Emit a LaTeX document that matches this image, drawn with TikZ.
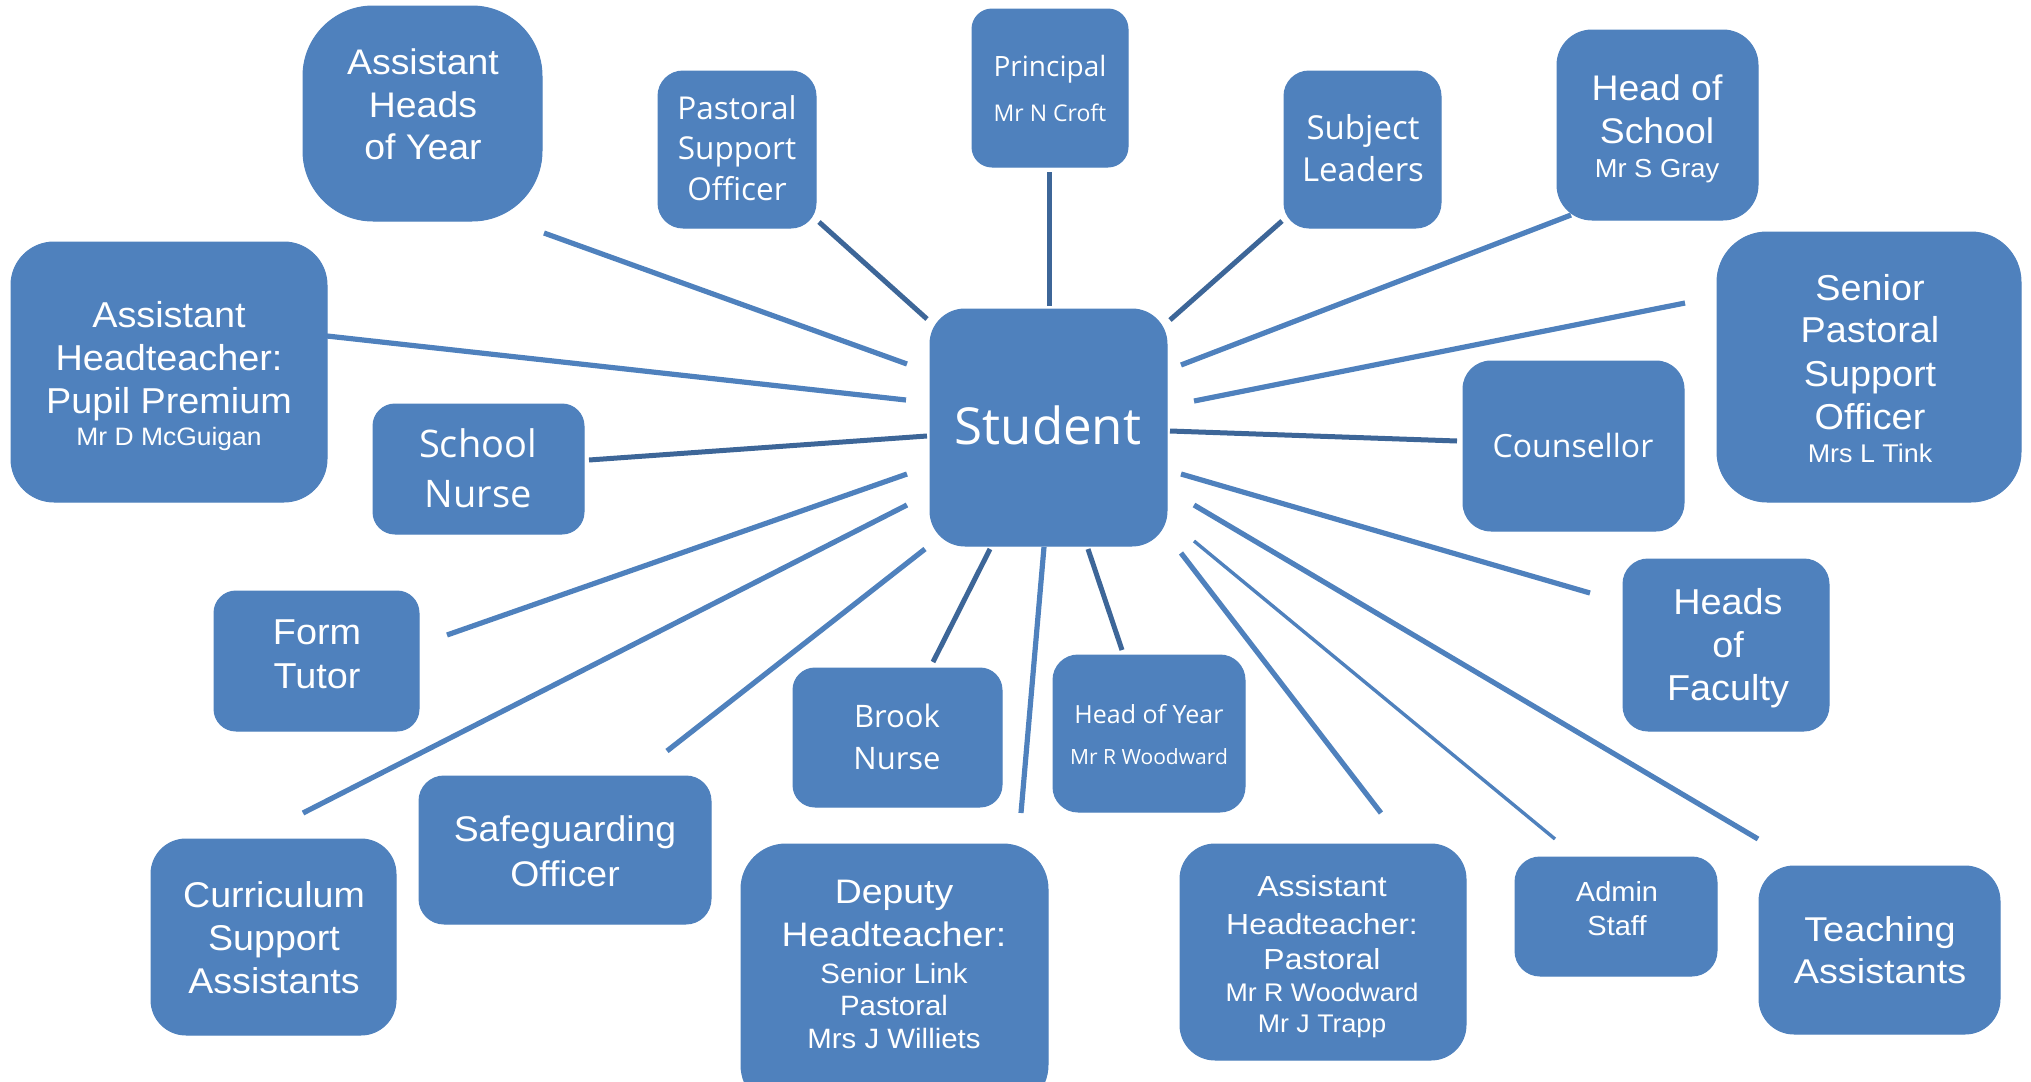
\documentclass[tikz,border=0pt]{standalone}
\usepackage{fontspec}
\newfontfamily\ar[FakeStretch=1.05]{Liberation Sans}
\newfontfamily\arx[FakeStretch=1.1]{Liberation Sans}
\newfontfamily\os{Open Sans}
\definecolor{boxblue}{HTML}{4F81BD}
\definecolor{darkline}{HTML}{3D6698}
\newcommand\fsz[1]{\fontsize{#1}{#1}\selectfont}
\tikzset{
  box/.style={fill=boxblue, draw=boxblue, line width=0.5pt, inner sep=0pt},
  lnk/.style={draw=boxblue, line width=2.6pt},
  dlnk/.style={draw=darkline, line width=2.5pt},
  thinlnk/.style={draw=boxblue, line width=1.7pt},
  txt/.style={text=white, inner sep=0pt, anchor=base},
}
\begin{document}
\begin{tikzpicture}[x=0.5pt, y=-0.5pt]
\useasboundingbox (0,0) rectangle (2031,1082);
% ---------- boxes ----------
\node[box, minimum width=119.5pt, minimum height=107.5pt, rounded corners=35pt] (ahoy) at (422.5,113.5) {};
\node[box, minimum width=79pt, minimum height=78.5pt, rounded corners=12.5pt] (pso) at (737,149.5) {};
\node[box, minimum width=78pt, minimum height=79pt, rounded corners=10pt] (principal) at (1050,88) {};
\node[box, minimum width=78.5pt, minimum height=78.5pt, rounded corners=12.5pt] (subj) at (1362.5,149.5) {};
\node[box, minimum width=100.5pt, minimum height=95pt, rounded corners=17.5pt] (hos) at (1657.5,125) {};
\node[box, minimum width=152pt, minimum height=135pt, rounded corners=25pt] (spso) at (1869,367) {};
\node[box, minimum width=158pt, minimum height=130pt, rounded corners=21.5pt] (pp) at (169,372) {};
\node[box, minimum width=105.5pt, minimum height=65pt, rounded corners=11pt] (sn) at (478.5,469) {};
\node[box, minimum width=118.5pt, minimum height=118.5pt, rounded corners=17.5pt] (student) at (1048.5,427.5) {};
\node[box, minimum width=110.5pt, minimum height=85pt, rounded corners=14pt] (couns) at (1573.5,446) {};
\node[box, minimum width=102.5pt, minimum height=70pt, rounded corners=11pt] (ft) at (316.5,661) {};
\node[box, minimum width=103pt, minimum height=86pt, rounded corners=12.5pt] (hof) at (1726,645) {};
\node[box, minimum width=104.5pt, minimum height=69.5pt, rounded corners=11pt] (bn) at (897.5,737.5) {};
\node[box, minimum width=96pt, minimum height=78.5pt, rounded corners=12.5pt] (hoy) at (1149,733.5) {};
\node[box, minimum width=146pt, minimum height=74pt, rounded corners=12.5pt] (so) at (565,850) {};
\node[box, minimum width=122.5pt, minimum height=98pt, rounded corners=17.5pt] (csa) at (273.5,937) {};
\node[box, minimum width=153.5pt, minimum height=133pt, rounded corners=22.5pt] (dh) at (894.5,977) {};
\node[box, minimum width=143pt, minimum height=108pt, rounded corners=17.5pt] (ahp) at (1323,952) {};
\node[box, minimum width=101pt, minimum height=59.5pt, rounded corners=12.5pt] (admin) at (1616,916.5) {};
\node[box, minimum width=120.5pt, minimum height=84pt, rounded corners=17.5pt] (ta) at (1879.5,950) {};
% ---------- connector ends ----------
\coordinate (ahoy-e) at (544,233);   \coordinate (st-ahoy) at (907,364);
\coordinate (pso-e) at (819,222);    \coordinate (st-pso) at (927,319);
\coordinate (principal-e) at (1049,172); \coordinate (st-principal) at (1049,306);
\coordinate (subj-e) at (1282,221);  \coordinate (st-subj) at (1170,320);
\coordinate (hos-e) at (1571,215);   \coordinate (st-hos) at (1181,365);
\coordinate (spso-e) at (1685,303);  \coordinate (st-spso) at (1194,401);
\coordinate (pp-e) at (327,336);     \coordinate (st-pp) at (906,400);
\coordinate (sn-e) at (589,460);     \coordinate (st-sn) at (927,436);
\coordinate (couns-e) at (1457,441); \coordinate (st-couns) at (1170,431);
\coordinate (ft-e) at (447,635);     \coordinate (st-ft) at (907,474);
\coordinate (csa-e) at (303,813);    \coordinate (st-csa) at (907,505);
\coordinate (so-e) at (667,751);     \coordinate (st-so) at (925,549);
\coordinate (bn-e) at (933,662);     \coordinate (st-bn) at (990,549);
\coordinate (dh-e) at (1021,813);    \coordinate (st-dh) at (1044,547);
\coordinate (hoy-e) at (1122,650);   \coordinate (st-hoy) at (1088,549);
\coordinate (ahp-e) at (1381,813);   \coordinate (st-ahp) at (1181,553);
\coordinate (admin-e) at (1555,839); \coordinate (st-admin) at (1194,541);
\coordinate (ta-e) at (1758,839);    \coordinate (st-ta) at (1194,505);
\coordinate (hof-e) at (1590,593);   \coordinate (st-hof) at (1181,474);
% ---------- connectors ----------
\draw[lnk] (ahoy-e) -- (st-ahoy);
\draw[dlnk] (pso-e) -- (st-pso);
\draw[dlnk] (principal-e) -- (st-principal);
\draw[dlnk] (subj-e) -- (st-subj);
\draw[lnk] (hos-e) -- (st-hos);
\draw[lnk] (spso-e) -- (st-spso);
\draw[lnk] (pp-e) -- (st-pp);
\draw[dlnk] (sn-e) -- (st-sn);
\draw[dlnk] (couns-e) -- (st-couns);
\draw[lnk] (ft-e) -- (st-ft);
\draw[lnk] (csa-e) -- (st-csa);
\draw[lnk] (so-e) -- (st-so);
\draw[dlnk] (bn-e) -- (st-bn);
\draw[lnk] (dh-e) -- (st-dh);
\draw[dlnk] (hoy-e) -- (st-hoy);
\draw[lnk] (ahp-e) -- (st-ahp);
\draw[thinlnk] (admin-e) -- (st-admin);
\draw[lnk] (ta-e) -- (st-ta);
\draw[lnk] (hof-e) -- (st-hof);
% ---------- texts ----------
\node[txt, font=\ar\fsz{17.8}] (ahoy-1) at (423,74) {Assistant};
\node[txt, font=\ar\fsz{17.8}] (ahoy-2) at (423,117) {Heads};
\node[txt, font=\ar\fsz{17.8}] (ahoy-3) at (423,159) {of Year};
\node[txt, font=\os\fsz{15.75}] (pso-1) at (737,119) {Pastoral};
\node[txt, font=\os\fsz{15.75}] (pso-2) at (737,159) {Support};
\node[txt, font=\os\fsz{15.75}] (pso-3) at (737,200) {Officer};
\node[txt, font=\os\fsz{14}] (principal-1) at (1050,76) {Principal};
\node[txt, font=\os\fsz{11.5}] (principal-2) at (1050,121) {Mr N Croft};
\node[txt, font=\os\fsz{16.5}] (subj-1) at (1363,139) {Subject};
\node[txt, font=\os\fsz{16.5}] (subj-2) at (1363,181) {Leaders};
\node[txt, font=\ar\fsz{17.8}] (hos-1) at (1657,100) {Head of};
\node[txt, font=\ar\fsz{17.8}] (hos-2) at (1657,143) {School};
\node[txt, font=\ar\fsz{13}] (hos-3) at (1657,177) {Mr S Gray};
\node[txt, font=\ar\fsz{18}] (spso-1) at (1870,300) {Senior};
\node[txt, font=\ar\fsz{18}] (spso-2) at (1870,342) {Pastoral};
\node[txt, font=\ar\fsz{18}] (spso-3) at (1870,386) {Support};
\node[txt, font=\ar\fsz{18}] (spso-4) at (1870,429) {Officer};
\node[txt, font=\ar\fsz{12.8}] (spso-5) at (1870,462) {Mrs L Tink};
\node[txt, font=\ar\fsz{18}] (pp-1) at (169,327) {Assistant};
\node[txt, font=\ar\fsz{18}] (pp-2) at (169,370) {Headteacher:};
\node[txt, font=\ar\fsz{18}] (pp-3) at (169,413) {Pupil Premium};
\node[txt, font=\ar\fsz{12.6}] (pp-4) at (169,445) {Mr D McGuigan};
\node[txt, font=\os\fsz{19}] (sn-1) at (478,457) {School};
\node[txt, font=\os\fsz{19}] (sn-2) at (478,507) {Nurse};
\node[txt, font=\os\fsz{25.5}] (student-1) at (1048,444) {Student};
\node[txt, font=\os\fsz{16}] (couns-1) at (1573,457) {Counsellor};
\node[txt, font=\ar\fsz{18}] (ft-1) at (317,644) {Form};
\node[txt, font=\ar\fsz{18}] (ft-2) at (317,688) {Tutor};
\node[txt, font=\ar\fsz{18}] (hof-1) at (1728,614) {Heads};
\node[txt, font=\ar\fsz{18}] (hof-2) at (1728,657) {of};
\node[txt, font=\ar\fsz{18}] (hof-3) at (1728,700) {Faculty};
\node[txt, font=\os\fsz{15.5}] (bn-1) at (897,727) {Brook};
\node[txt, font=\os\fsz{15.5}] (bn-2) at (897,769) {Nurse};
\node[txt, font=\os\fsz{12.5}] (hoy-1) at (1149,723) {Head of Year};
\node[txt, font=\os\fsz{10.5}] (hoy-2) at (1149,764) {Mr R Woodward};
\node[txt, font=\ar\fsz{17.8}] (so-1) at (565,841) {Safeguarding};
\node[txt, font=\ar\fsz{17.8}] (so-2) at (565,886) {Officer};
\node[txt, font=\ar\fsz{17.9}] (csa-1) at (274,907) {Curriculum};
\node[txt, font=\ar\fsz{17.9}] (csa-2) at (274,950) {Support};
\node[txt, font=\ar\fsz{17.9}] (csa-3) at (274,993) {Assistants};
\node[txt, font=\arx\fsz{17}] (dh-1) at (894,903) {Deputy};
\node[txt, font=\arx\fsz{17}] (dh-2) at (894,946) {Headteacher:};
\node[txt, font=\ar\fsz{14}] (dh-3) at (894,983) {Senior Link};
\node[txt, font=\ar\fsz{14}] (dh-4) at (894,1015) {Pastoral};
\node[txt, font=\ar\fsz{14}] (dh-5) at (894,1048) {Mrs J Williets};
\node[txt, font=\arx\fsz{14.5}] (ahp-1) at (1322,896) {Assistant};
\node[txt, font=\arx\fsz{14.5}] (ahp-2) at (1322,934) {Headteacher:};
\node[txt, font=\arx\fsz{14.5}] (ahp-3) at (1322,969) {Pastoral};
\node[txt, font=\ar\fsz{12.75}] (ahp-4) at (1322,1001) {Mr R Woodward};
\node[txt, font=\ar\fsz{12.75}] (ahp-5) at (1322,1032) {Mr J Trapp};
\node[txt, font=\ar\fsz{13.8}] (admin-1) at (1617,901) {Admin};
\node[txt, font=\ar\fsz{13.8}] (admin-2) at (1617,935) {Staff};
\node[txt, font=\arx\fsz{17.2}] (ta-1) at (1880,941) {Teaching};
\node[txt, font=\arx\fsz{17.2}] (ta-2) at (1880,983) {Assistants};
\end{tikzpicture}
\end{document}
